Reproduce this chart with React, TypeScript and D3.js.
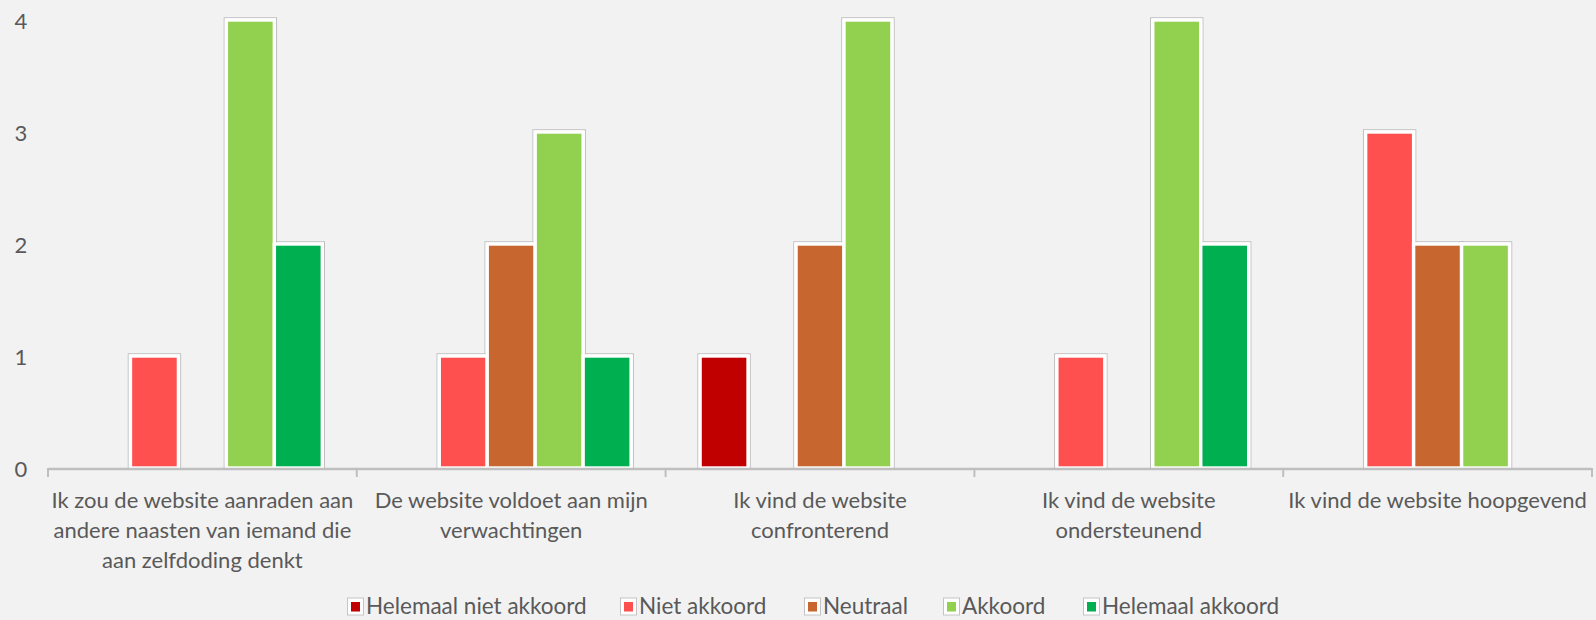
import React from "react";
import * as d3 from "d3";

const categories = [
  "Ik zou de website aanraden aan\nandere naasten van iemand die\naan zelfdoding denkt",
  "De website voldoet aan mijn\nverwachtingen",
  "Ik vind de website\nconfronterend",
  "Ik vind de website\nondersteunend",
  "Ik vind de website hoopgevend",
];
const seriesNames = [
  "Helemaal niet akkoord",
  "Niet akkoord",
  "Neutraal",
  "Akkoord",
  "Helemaal akkoord",
];
const seriesColors = ["#C00000", "#FF5050", "#C8662F", "#92D050", "#00B050"];
const helemaalNietAkkoord = [0, 0, 1, 0, 0];
const nietAkkoord = [1, 1, 0, 1, 3];
const neutraal = [0, 2, 2, 0, 2];
const akkoord = [4, 3, 4, 4, 2];
const helemaalAkkoord = [2, 1, 0, 2, 0];
const yTicks = [0, 1, 2, 3, 4];

const seriesValues = [helemaalNietAkkoord, nietAkkoord, neutraal, akkoord, helemaalAkkoord];

const W = 1596;
const H = 620;
const FONT = "Lato, 'Open Sans', sans-serif";
const TEXT = "#595959";

export default function App() {
  const x0 = d3.scaleBand<string>().domain(categories).range([48, 1592]).padding(0);
  const bw = x0.bandwidth();
  const x1 = d3
    .scaleBand<string>()
    .domain(seriesNames)
    .range([bw * 0.1117, bw * (1 - 0.1117)])
    .padding(0);
  const y = d3.scaleLinear().domain([0, 4]).range([468, 20]);

  const bars: { key: string; x: number; w: number; y: number; h: number; color: string }[] = [];
  categories.forEach((c, ci) => {
    seriesNames.forEach((s, si) => {
      const v = seriesValues[si][ci];
      if (v <= 0) return;
      const bx = (x0(c) ?? 0) + (x1(s) ?? 0);
      bars.push({
        key: `${ci}-${si}`,
        x: bx,
        w: x1.bandwidth(),
        y: y(v),
        h: y(0) - y(v),
        color: seriesColors[si],
      });
    });
  });

  const legendX = [347, 620, 804, 943, 1083];
  const boundaries = categories.map((c) => x0(c) ?? 0).concat([1592]);

  return (
    <svg
      width={W}
      height={H}
      style={{ position: "absolute", left: 0, top: 0, display: "block" }}
      fontFamily={FONT}
    >
      <rect x={0} y={0} width={W} height={H} fill="#F2F2F2" />
      {/* bar gray outlines */}
      {bars.map((b) => (
        <rect
          key={"o" + b.key}
          x={b.x - 2.2}
          y={b.y - 2.2}
          width={b.w + 4.4}
          height={b.h + 2.2}
          fill="none"
          stroke="#BDBDBD"
          strokeWidth={1}
        />
      ))}
      {bars.map((b) => (
        <rect
          key={"b" + b.key}
          x={b.x}
          y={b.y}
          width={b.w}
          height={b.h}
          fill={b.color}
          stroke="#FFFFFF"
          strokeWidth={3.4}
        />
      ))}
      {/* axis */}
      <line x1={48} x2={1592} y1={y(0) + 1} y2={y(0) + 1} stroke="#BFBFBF" strokeWidth={2.5} />
      {boundaries.map((bx, i) => (
        <line key={"t" + i} x1={bx} x2={bx} y1={y(0)} y2={y(0) + 9} stroke="#BFBFBF" strokeWidth={2} />
      ))}
      {/* y labels */}
      {yTicks.map((t) => (
        <text
          key={"y" + t}
          x={21}
          y={y(t)}
          textAnchor="middle"
          dominantBaseline="central"
          fontSize={22}
          fill={TEXT}
        >
          {t}
        </text>
      ))}
      {/* category labels */}
      {categories.map((c) => {
        const cx = (x0(c) ?? 0) + bw / 2;
        return (
          <text key={c} textAnchor="middle" fontSize={22} fill={TEXT}>
            {c.split("\n").map((ln, li) => (
              <tspan key={li} x={cx} y={508 + li * 30}>
                {ln}
              </tspan>
            ))}
          </text>
        );
      })}
      {/* legend */}
      {seriesNames.map((s, i) => (
        <g key={"l" + s} transform={`translate(${legendX[i]},0)`}>
          <rect x={0.5} y={598} width={16} height={17} fill="#FFFFFF" stroke="#C4C4C4" strokeWidth={1} />
          <rect x={4} y={602} width={9} height={9.5} fill={seriesColors[i]} />
          <text x={19} y={614} fontSize={22.5} fill={TEXT}>
            {s}
          </text>
        </g>
      ))}
    </svg>
  );
}
